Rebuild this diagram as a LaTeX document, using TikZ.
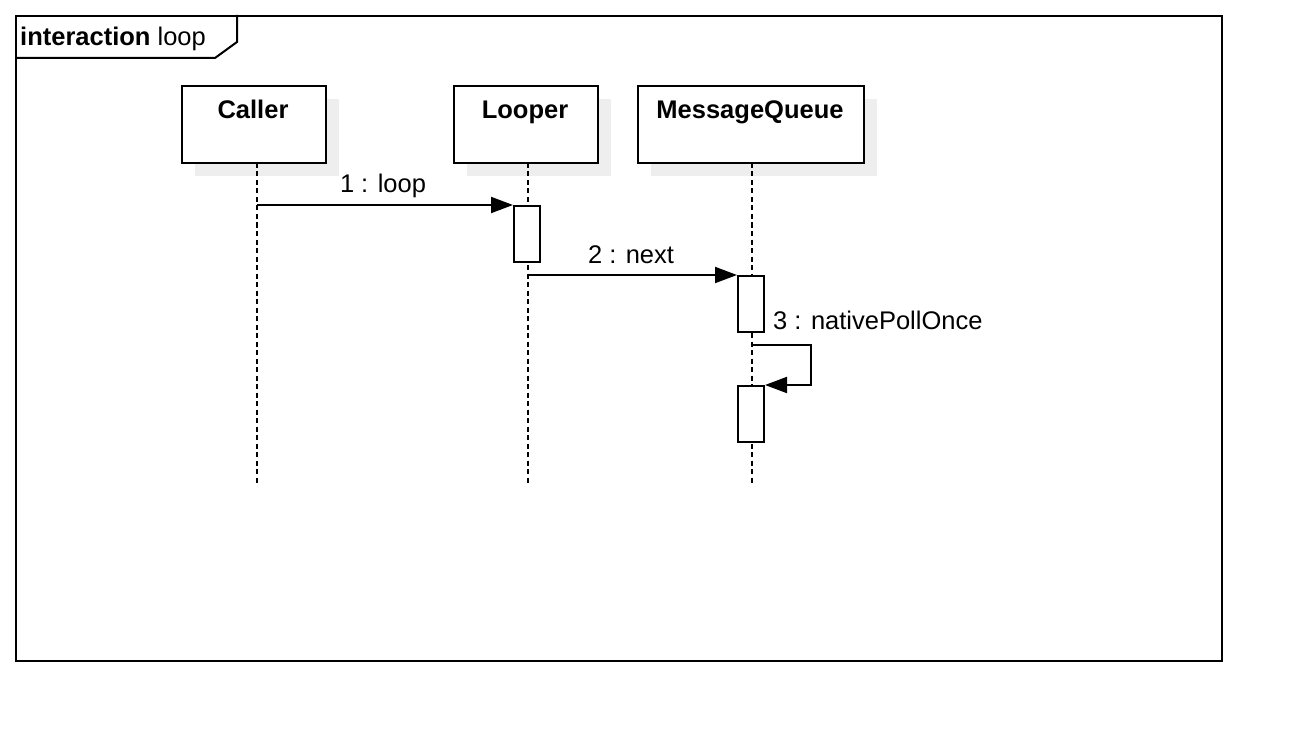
\documentclass[tikz,border=0pt]{standalone}
\usepackage{fontspec}
\setmainfont{Liberation Sans}
\usetikzlibrary{arrows.meta}
\definecolor{shadowgray}{HTML}{EEEEEE}
\tikzset{
  px/.style={x=1pt,y=-1pt},
  head/.style={draw,line width=2pt,fill=white,minimum width=144pt,minimum height=77pt,inner sep=0pt,anchor=north west},
  headtxt/.style={font=\fontsize{25.5}{30}\selectfont\bfseries,anchor=base,inner sep=0pt},
  shadowbox/.style={fill=shadowgray,draw=none,minimum height=77pt,inner sep=0pt,anchor=north west},
  lifeline/.style={line width=2pt,dash pattern=on 5pt off 3.5pt},
  act/.style={draw,line width=2pt,fill=white,minimum width=26pt,minimum height=56pt,inner sep=0pt,anchor=north west},
  msg/.style={line width=2pt,-{Triangle[length=22pt,width=16pt]}},
  msgtxt/.style={font=\fontsize{25.5}{30}\selectfont,anchor=base,inner sep=0pt},
}
\begin{document}
\begin{tikzpicture}[px]
\useasboundingbox (0,0) rectangle (1306,746);
% frame
\node[draw,line width=2pt,minimum width=1206pt,minimum height=645pt,inner sep=0pt,anchor=north west] (frame) at (15,15) {};
\draw[line width=2pt] (237,15) -- (237,42) -- (215,58) -- (15,58);
\node[font=\fontsize{25.5}{30}\selectfont,anchor=base west,inner sep=0pt] (tag) at (20,46) {\textbf{interaction} loop};
% shadows
\node[shadowbox,minimum width=144pt] (callerS) at (195,99) {};
\node[shadowbox,minimum width=144pt] (looperS) at (467,99) {};
\node[shadowbox,minimum width=226pt] (mqS) at (651,99) {};
% heads
\node[head] (caller) at (181,85) {};
\node[head] (looper) at (453,85) {};
\node[head,minimum width=226pt] (mq) at (637,85) {};
\node[headtxt] (callerT) at (253,119) {Caller};
\node[headtxt] (looperT) at (525,119) {Looper};
\node[headtxt] (mqT) at (750,119) {MessageQueue};
% lifelines
\coordinate (callerE) at (257,483);
\coordinate (looperE) at (528,483);
\coordinate (mqE) at (752,483);
\draw[lifeline] (257,163) -- (callerE);
\draw[lifeline] (528,163) -- (looperE);
\draw[lifeline] (752,163) -- (mqE);
% activations
\node[act] (a1) at (513,205) {};
\node[act] (a2) at (737,275) {};
\node[act] (a3) at (737,385) {};
% messages
\coordinate (m1s) at (257,205);
\draw[msg] (m1s) -- (a1.north west);
\node[msgtxt] (m1) at (383,193) {1 : loop};
\coordinate (m2s) at (528,275);
\draw[msg] (m2s) -- (a2.north west);
\node[msgtxt] (m2) at (631,263) {2 : next};
\coordinate (m3s) at (752,345);
\draw[msg] (m3s) -- (811,345) -- (811,385) -- (a3.north east);
\node[msgtxt,anchor=base west] (m3) at (773,329) {3 : nativePollOnce};
\end{tikzpicture}
\end{document}
